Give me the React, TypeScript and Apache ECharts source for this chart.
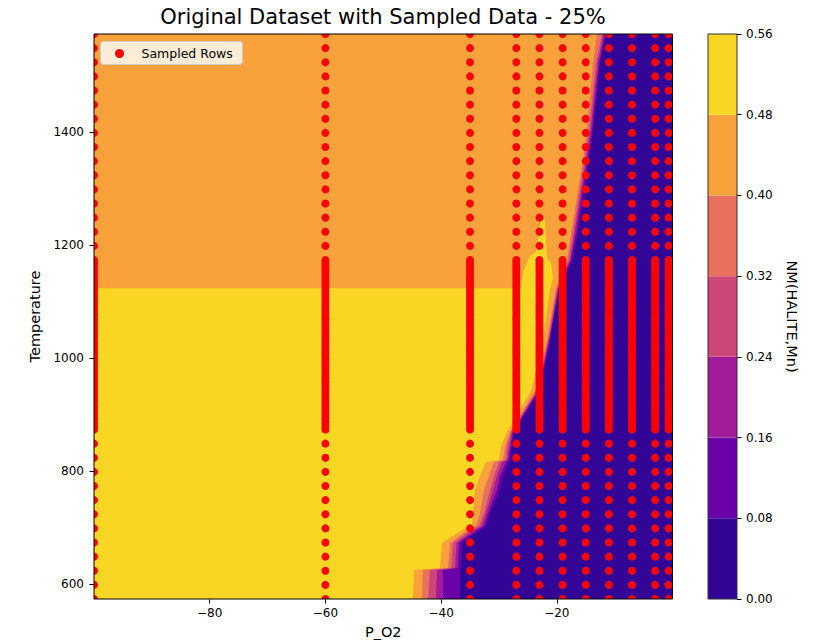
import React, { useEffect, useRef } from 'react';
import * as echarts from 'echarts';

const FONT = 'DejaVu Sans';

const titleText = 'Original Dataset with Sampled Data - 25%';
const xName = 'P_O2';
const yName = 'Temperature';
const colorbarName = 'NM(HALITE,Mn)';
const legendName = 'Sampled Rows';

// Axis ranges and tick labels
const pO2Range = [-100, 0];
const tempRange = [573.15, 1573.15];
const xTickValues = [-80, -60, -40, -20];
const yTickValues = [600, 800, 1000, 1200, 1400];

// Filled-contour levels of NM(HALITE,Mn) and their plasma colours
const levels = [0, 0.08, 0.16, 0.24, 0.32, 0.4, 0.48, 0.56];
const levelColors = ['#330597', '#6b00a8', '#a11b9b', '#cc4778', '#e8705c', '#f9a13a', '#f9d623'];

// Traced contour edges: temperature rows (K) and the P_O2 where the field
// drops below each level on that row (field is higher to the left)
const edgeTemps = [573.15, 624.5, 628, 672.3, 695.3, 702.4, 725.4, 766.1, 790.9, 815.6, 819.2, 842.2, 868.7, 943, 1031.6, 1123.15, 1173.2, 1231.6, 1350.2, 1403.2, 1521.8, 1573.15];
const edge40 = [-43.3, -43.13, -38.81, -38.46, -35.35, -33.97, -33.28, -32.58, -31.72, -30.86, -29.3, -28.95, -28.09, -23.68, -21.69, -20.14, -18.24, -17.37, -15.47, -14.78, -13.74, -13.05];
const edge32 = [-42.26, -41.92, -38.29, -37.94, -34.83, -33.45, -32.58, -31.55, -30.86, -29.99, -28.87, -28.61, -27.92, -23.42, -21.52, -19.96, -17.98, -17.03, -15.21, -14.43, -13.22, -12.19];
const edge24 = [-40.88, -40.71, -37.6, -37.34, -34.31, -33.02, -32.24, -31.03, -30.34, -29.47, -28.61, -28.26, -27.74, -23.25, -21.35, -19.79, -17.72, -16.77, -14.95, -14.17, -12.96, -11.93];
const edge16 = [-39.67, -39.67, -37.08, -36.91, -33.8, -32.58, -31.89, -30.34, -29.82, -28.78, -28.35, -28.0, -27.57, -23.08, -21.26, -19.71, -17.55, -16.51, -14.69, -13.92, -12.71, -11.67];
const edge08 = [-36.73, -36.73, -36.56, -36.39, -33.28, -32.24, -31.55, -29.82, -29.3, -28.26, -28.09, -27.74, -27.4, -22.91, -21.18, -19.62, -17.37, -16.16, -14.43, -13.74, -12.53, -11.5];

// Outline of the 0.48-0.56 region (low temperatures plus the small tongue above 1123 K)
const yellowP = [-100, -44.86, -44.68, -40.19, -39.84, -36.39, -34.66, -34.49, -34.14, -33.28, -32.24, -29.99, -29.65, -28.61, -24.37, -22.39, -21.18, -20.66, -21.0, -21.69, -21.87, -22.04, -22.73, -23.25, -23.6, -24.63, -25.84, -26.19, -100];
const yellowT = [573.15, 573.15, 624.5, 628, 672.3, 695.3, 702.4, 725.4, 766.1, 790.9, 815.6, 819.2, 842.2, 868.7, 943, 1031.6, 1120, 1141.3, 1167.8, 1176.7, 1208.5, 1245.7, 1242.2, 1208.5, 1187.3, 1180.2, 1151.9, 1123.15, 1123.15];

// Sampled rows: P_O2 columns and temperatures
const sampledPO2 = [-100, -60, -35, -27, -23, -19, -15, -11, -7, -3, -0.68];
const sampledTemps = [
  573.15, 598.15, 623.15, 648.15, 673.15, 698.15, 723.15, 748.15, 773.15, 798.15, 823.15, 848.15,
  873.15, 878.15, 883.15, 888.15, 893.15, 898.15, 903.15, 908.15, 913.15, 918.15, 923.15, 928.15,
  933.15, 938.15, 943.15, 948.15, 953.15, 958.15, 963.15, 968.15, 973.15, 978.15, 983.15, 988.15,
  993.15, 998.15, 1003.15, 1008.15, 1013.15, 1018.15, 1023.15, 1028.15, 1033.15, 1038.15, 1043.15,
  1048.15, 1053.15, 1058.15, 1063.15, 1068.15, 1073.15, 1078.15, 1083.15, 1088.15, 1093.15, 1098.15,
  1103.15, 1108.15, 1113.15, 1118.15, 1123.15, 1128.15, 1133.15, 1138.15, 1143.15, 1148.15, 1153.15,
  1158.15, 1163.15, 1168.15, 1173.15,
  1198.15, 1223.15, 1248.15, 1273.15, 1298.15, 1323.15, 1348.15, 1373.15, 1398.15, 1423.15, 1448.15,
  1473.15, 1498.15, 1523.15, 1548.15, 1573.15,
];

const edgePolygon = (edge: number[]) => [
  [pO2Range[0], edgeTemps[0]],
  ...edge.map((p, i) => [p, edgeTemps[i]]),
  [pO2Range[0], edgeTemps[edgeTemps.length - 1]],
];

const contourLayers = [
  {
    color: levelColors[0],
    points: [
      [pO2Range[0], tempRange[0]],
      [pO2Range[1], tempRange[0]],
      [pO2Range[1], tempRange[1]],
      [pO2Range[0], tempRange[1]],
    ],
  },
  { color: levelColors[1], points: edgePolygon(edge08) },
  { color: levelColors[2], points: edgePolygon(edge16) },
  { color: levelColors[3], points: edgePolygon(edge24) },
  { color: levelColors[4], points: edgePolygon(edge32) },
  { color: levelColors[5], points: edgePolygon(edge40) },
  { color: levelColors[6], points: yellowP.map((p, i) => [p, yellowT[i]]) },
];

const sampledPoints: number[][] = [];
sampledPO2.forEach((p) => sampledTemps.forEach((t) => sampledPoints.push([p, t])));

const minusFmt = (v: number) => (v < 0 ? '\u2212' + Math.abs(v) : String(v));

const textBase = { fontFamily: FONT, color: '#000' };

const frame = (xr: number[], yr: number[], color: string) => (_params: any, api: any) => {
  const a = api.coord([xr[0], yr[1]]);
  const b = api.coord([xr[1], yr[0]]);
  return {
    type: 'rect',
    shape: { x: a[0], y: a[1], width: b[0] - a[0], height: b[1] - a[1] },
    style: { fill: 'none', stroke: color, lineWidth: 1 },
  };
};

const option: any = {
  animation: false,
  backgroundColor: '#ffffff',
  title: {
    text: titleText,
    left: 383,
    top: 6,
    padding: 0,
    textAlign: 'center',
    textStyle: { ...textBase, fontSize: 21, fontWeight: 'normal' },
  },
  // Legend box drawn in the upper-left corner of the plot
  graphic: [
    {
      type: 'group',
      left: 100,
      top: 41,
      z: 20,
      children: [
        {
          type: 'rect',
          z: 20,
          shape: { x: 0, y: 0, width: 142, height: 23, r: 3 },
          style: { fill: 'rgba(255,255,255,0.8)', stroke: '#cccccc', lineWidth: 1 },
        },
        { type: 'circle', z: 21, shape: { cx: 19, cy: 12, r: 4.5 }, style: { fill: '#ff0000' } },
        {
          type: 'text',
          z: 21,
          x: 41,
          y: 12,
          style: {
            text: legendName,
            fill: '#000',
            fontFamily: FONT,
            fontSize: 12.5,
            verticalAlign: 'middle',
            align: 'left',
          },
        },
      ],
    },
  ],
  grid: [
    { left: 94, top: 34, width: 578.5, height: 565 },
    { left: 708, top: 34, width: 29, height: 565 },
  ],
  xAxis: [
    {
      gridIndex: 0,
      type: 'value',
      min: pO2Range[0],
      max: pO2Range[1],
      z: 10,
      name: xName,
      nameLocation: 'middle',
      nameGap: 25,
      nameTextStyle: { ...textBase, fontSize: 14.5 },
      axisLine: { show: false, onZero: false },
      splitLine: { show: false },
      axisTick: { show: true, customValues: xTickValues, length: 4.5, lineStyle: { color: '#000', width: 1 } },
      axisLabel: { customValues: xTickValues, formatter: minusFmt, margin: 8, ...textBase, fontSize: 12 },
    },
    { gridIndex: 1, type: 'value', min: 0, max: 1, show: false, axisLine: { onZero: false } },
  ],
  yAxis: [
    {
      gridIndex: 0,
      type: 'value',
      min: tempRange[0],
      max: tempRange[1],
      position: 'left',
      z: 10,
      name: yName,
      nameLocation: 'middle',
      nameGap: 42,
      nameTextStyle: { ...textBase, fontSize: 14.5 },
      axisLine: { show: false, onZero: false },
      splitLine: { show: false },
      axisTick: { show: true, customValues: yTickValues, length: 4.5, lineStyle: { color: '#000', width: 1 } },
      axisLabel: { customValues: yTickValues, formatter: (v: number) => String(v), margin: 10, ...textBase, fontSize: 12 },
    },
    {
      gridIndex: 1,
      type: 'value',
      min: levels[0],
      max: levels[levels.length - 1],
      position: 'right',
      z: 10,
      name: colorbarName,
      nameLocation: 'middle',
      nameRotate: -90,
      nameGap: 47,
      nameTextStyle: { ...textBase, fontSize: 14.5 },
      axisLine: { show: false, onZero: false },
      splitLine: { show: false },
      axisTick: { show: true, customValues: levels, length: 4.5, lineStyle: { color: '#000', width: 1 } },
      axisLabel: { customValues: levels, formatter: (v: number) => v.toFixed(2), margin: 9, ...textBase, fontSize: 12 },
    },
  ],
  series: [
    {
      name: 'contour',
      type: 'custom',
      xAxisIndex: 0,
      yAxisIndex: 0,
      clip: true,
      z: 1,
      silent: true,
      data: contourLayers.map((_, i) => [i]),
      renderItem: (params: any, api: any) => {
        const layer = contourLayers[params.dataIndex];
        return {
          type: 'polygon',
          shape: { points: layer.points.map((pt) => api.coord(pt)) },
          style: { fill: layer.color },
        };
      },
    },
    {
      name: legendName,
      type: 'custom',
      xAxisIndex: 0,
      yAxisIndex: 0,
      clip: true,
      z: 3,
      silent: true,
      itemStyle: { color: '#ff0000' },
      data: sampledPoints,
      renderItem: (_params: any, api: any) => {
        const c = api.coord([api.value(0), api.value(1)]);
        return { type: 'circle', shape: { cx: c[0], cy: c[1], r: 4 }, style: { fill: '#ff0000' } };
      },
    },
    {
      name: 'frame',
      type: 'custom',
      xAxisIndex: 0,
      yAxisIndex: 0,
      z: 8,
      silent: true,
      data: [[0]],
      renderItem: frame(pO2Range, tempRange, '#000'),
    },
    {
      name: 'colorbar',
      type: 'custom',
      xAxisIndex: 1,
      yAxisIndex: 1,
      z: 1,
      silent: true,
      data: levelColors.map((_, i) => [i]),
      renderItem: (params: any, api: any) => {
        const i = params.dataIndex;
        const p0 = api.coord([0, levels[i]]);
        const p1 = api.coord([1, levels[i + 1]]);
        return {
          type: 'rect',
          shape: { x: p0[0], y: p1[1], width: p1[0] - p0[0], height: p0[1] - p1[1] },
          style: { fill: levelColors[i] },
        };
      },
    },
    {
      name: 'colorbar frame',
      type: 'custom',
      xAxisIndex: 1,
      yAxisIndex: 1,
      z: 8,
      silent: true,
      data: [[0]],
      renderItem: frame([0, 1], [levels[0], levels[levels.length - 1]], '#333'),
    },
  ],
};

export default function App() {
  const ref = useRef<HTMLDivElement>(null);
  useEffect(() => {
    const chart = echarts.init(ref.current as HTMLDivElement, null, { renderer: 'svg' });
    chart.setOption(option);
    return () => chart.dispose();
  }, []);
  return (
    <div
      ref={ref}
      style={{ position: 'fixed', left: 0, top: 0, width: 813, height: 644 }}
    />
  );
}
